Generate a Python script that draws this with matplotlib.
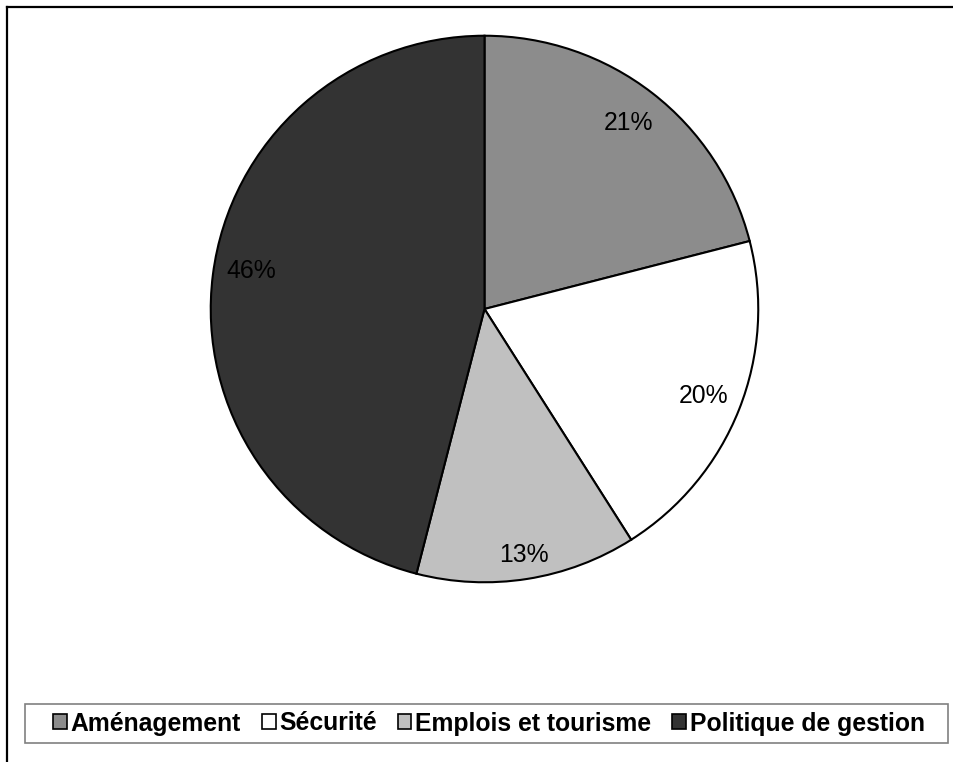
import matplotlib.pyplot as plt
from matplotlib.lines import Line2D
from matplotlib.patches import Rectangle

# share of each theme
categories = ['Aménagement', 'Sécurité', 'Emplois et tourisme', 'Politique de gestion']
shares = [21, 20, 13, 46]
colors = ['#8c8c8c', '#ffffff', '#c0c0c0', '#333333']

plt.rcParams['font.family'] = ['Liberation Sans', 'DejaVu Sans']

fig = plt.figure(figsize=(9.54, 7.62), dpi=100)
fig.patch.set_facecolor('white')

ax = fig.add_axes([208 / 954, 1 - 585 / 762, 553 / 954, 552 / 762])
wedges, texts, autotexts = ax.pie(
    shares, colors=colors, startangle=90, counterclock=False,
    autopct='%1.0f%%', pctdistance=0.86,
    wedgeprops=dict(edgecolor='black', linewidth=1.5),
    textprops=dict(fontsize=17.8, color='black'))
ax.set_xlim(-1.01, 1.01)
ax.set_ylim(-1.01, 1.01)
ax.set_aspect('auto')

# small position tweaks for two of the percentage labels
x, y = autotexts[2].get_position()
autotexts[2].set_position((x * 0.91 / 0.86, y * 0.91 / 0.86))
x, y = autotexts[3].get_position()
autotexts[3].set_position((x, y + 0.03))

# legend frame across the bottom
fig.add_artist(Rectangle((25 / 954, 1 - 743 / 762), 923 / 954, 39 / 762,
                         transform=fig.transFigure, facecolor='white',
                         edgecolor='#808080', linewidth=1.2))
leg = fig.legend(
    wedges, categories, ncol=4, loc='center',
    bbox_to_anchor=(489 / 954, 1 - 723.5 / 762),
    bbox_transform=fig.transFigure,
    prop=dict(size=17.8, weight='bold'),
    handlelength=0.55, handleheight=0.55, handletextpad=0.15,
    columnspacing=0.85, borderpad=0.2, borderaxespad=0, frameon=False)
for h in leg.legend_handles:
    h.set_edgecolor('black')
    h.set_linewidth(1.2)

# chart border (left and top)
fig.add_artist(Line2D([7.5 / 954, 7.5 / 954], [0, 1 - 6.5 / 762],
                      color='black', linewidth=1.6, transform=fig.transFigure))
fig.add_artist(Line2D([7.5 / 954, 1], [1 - 6.5 / 762, 1 - 6.5 / 762],
                      color='black', linewidth=1.6, transform=fig.transFigure))

fig.savefig('out.png', dpi=100, facecolor='white')
